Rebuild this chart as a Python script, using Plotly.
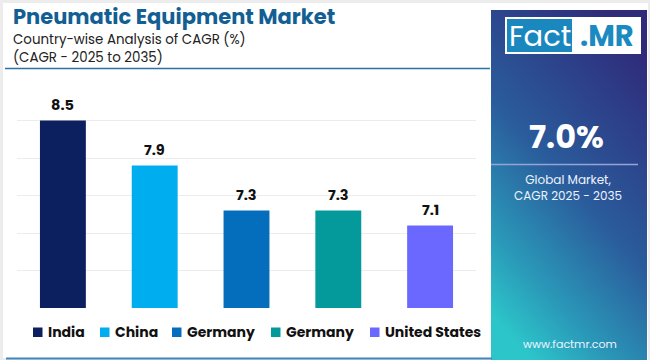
import base64
import plotly.graph_objects as go

# ---------------- data ----------------
countries = ["India", "China", "Germany", "Germany", "United States"]
cagr = [8.5, 7.9, 7.3, 7.3, 7.1]
bar_colors = ["#0c1f5e", "#00adef", "#046ebd", "#04999a", "#6a68ff"]
global_cagr = "7.0%"
title_text = "Pneumatic Equipment Market"
subtitle_1 = "Country-wise Analysis of CAGR (%)"
subtitle_2 = "(CAGR - 2025 to 2035)"
y_min, y_max, y_step = 6.0, 9.0, 0.5

# ---------------- layout geometry (pixels) ----------------
W, H = 650, 360
L, R, T, B = 17, 476, 83, 308
PW, PH = R - L, B - T


def px(x):
    return (x - L) / PW


def py(y):
    return (B - y) / PH


FONT = "Poppins, Inter, sans-serif"
xs = list(range(len(countries)))

fig = go.Figure()
fig.add_trace(go.Bar(
    x=xs, y=cagr, base=0, width=0.5,
    marker=dict(color=bar_colors, line=dict(width=0)),
    showlegend=False, hoverinfo="skip",
))

shapes = []
annotations = []
images = []

# page card (left part, white)
shapes.append(dict(type="rect", xref="paper", yref="paper",
                   x0=px(3), x1=px(491), y0=py(358), y1=py(3),
                   fillcolor="white", line=dict(width=0), layer="below"))
# white strip right of panel
shapes.append(dict(type="rect", xref="paper", yref="paper",
                   x0=px(491), x1=px(648), y0=py(360), y1=py(3),
                   fillcolor="white", line=dict(width=0), layer="below"))
# bottom blue line
shapes.append(dict(type="line", xref="paper", yref="paper",
                   x0=px(6), x1=px(492), y0=py(358.5), y1=py(358.5),
                   line=dict(color="#3f86bd", width=2)))
# title underline
shapes.append(dict(type="line", xref="paper", yref="paper",
                   x0=px(5), x1=px(490), y0=py(68.5), y1=py(68.5),
                   line=dict(color="#2d70a3", width=1.5)))

# gradient panel as svg image
svg = ("<svg xmlns='http://www.w3.org/2000/svg' width='156' height='350' viewBox='0 0 156 350' preserveAspectRatio='none'>"
       "<defs><linearGradient id='g' x1='0.75' y1='0' x2='0.25' y2='1'>"
       "<stop offset='0' stop-color='#2f2a7a'/>"
       "<stop offset='0.5' stop-color='#2a5c9c'/>"
       "<stop offset='0.8' stop-color='#2a98b8'/>"
       "<stop offset='1' stop-color='#2cc6ca'/>"
       "</linearGradient></defs>"
       "<rect width='156' height='350' fill='url(#g)'/></svg>")
src = "data:image/svg+xml;base64," + base64.b64encode(svg.encode()).decode()
images.append(dict(source=src, xref="paper", yref="paper",
                   x=px(491), y=py(10), sizex=(647 - 491) / PW, sizey=350 / PH,
                   xanchor="left", yanchor="top", sizing="stretch", layer="above"))

# logo
shapes.append(dict(type="rect", xref="paper", yref="paper",
                   x0=px(505), x1=px(641), y0=py(54), y1=py(17),
                   fillcolor="white", line=dict(width=0)))
shapes.append(dict(type="rect", xref="paper", yref="paper",
                   x0=px(507), x1=px(572), y0=py(52), y1=py(19),
                   fillcolor="#1a87be", line=dict(width=0)))
annotations.append(dict(xref="paper", yref="paper", x=px(539.5), y=py(36),
                        text="Fact", showarrow=False, xanchor="center", yanchor="middle",
                        font=dict(family=FONT, size=29, color="white")))
annotations.append(dict(xref="paper", yref="paper", x=px(607), y=py(36),
                        text="<b>.MR</b>", showarrow=False, xanchor="center", yanchor="middle",
                        font=dict(family=FONT, size=29, color="#1a8ac0")))

# panel texts
annotations.append(dict(xref="paper", yref="paper", x=px(566), y=py(136),
                        text="<b>" + global_cagr + "</b>", showarrow=False,
                        xanchor="center", yanchor="middle",
                        font=dict(family=FONT, size=32, color="white")))
shapes.append(dict(type="line", xref="paper", yref="paper",
                   x0=px(491), x1=px(638), y0=py(164.5), y1=py(164.5),
                   line=dict(color="#93a4d6", width=1.5)))
annotations.append(dict(xref="paper", yref="paper", x=px(568), y=py(187),
                        text="Global Market,<br>CAGR 2025 - 2035", showarrow=False,
                        xanchor="center", yanchor="middle", align="center",
                        font=dict(family=FONT, size=12, color="#eef3ff")))
annotations.append(dict(xref="paper", yref="paper", x=px(569.5), y=py(344),
                        text="www.factmr.com", showarrow=False,
                        xanchor="center", yanchor="middle",
                        font=dict(family=FONT, size=11, color="#eef3ff")))

# titles
annotations.append(dict(xref="paper", yref="paper", x=px(11), y=py(16),
                        text="<b>" + title_text + "</b>", showarrow=False,
                        xanchor="left", yanchor="middle",
                        font=dict(family=FONT, size=21, color="#135f93")))
annotations.append(dict(xref="paper", yref="paper", x=px(11), y=py(39),
                        text=subtitle_1, showarrow=False,
                        xanchor="left", yanchor="middle",
                        font=dict(family=FONT, size=13.4, color="#222222")))
annotations.append(dict(xref="paper", yref="paper", x=px(11), y=py(58),
                        text=subtitle_2, showarrow=False,
                        xanchor="left", yanchor="middle",
                        font=dict(family=FONT, size=13.4, color="#222222")))

# value labels
for xi, v in zip(xs, cagr):
    annotations.append(dict(x=xi, y=v, xref="x", yref="y", text="<b>%.1f</b>" % v,
                            showarrow=False, yanchor="bottom", yshift=4,
                            font=dict(family=FONT, size=14.5, color="#111111")))

# legend (manual)
legend_x = [33, 100, 172, 271, 370]
for lx, name, col in zip(legend_x, countries, bar_colors):
    shapes.append(dict(type="rect", xref="paper", yref="paper",
                       x0=px(lx), x1=px(lx + 9.5), y0=py(337), y1=py(327.5),
                       fillcolor=col, line=dict(width=0)))
    annotations.append(dict(xref="paper", yref="paper", x=px(lx + 13), y=py(332),
                            text="<b>" + name + "</b>", showarrow=False,
                            xanchor="left", yanchor="middle",
                            font=dict(family=FONT, size=14, color="#111111")))

fig.update_layout(
    width=W, height=H,
    margin=dict(l=L, r=W - R, t=T, b=H - B),
    paper_bgcolor="#ececec", plot_bgcolor="rgba(0,0,0,0)",
    showlegend=False,
    xaxis=dict(range=[-0.5, len(countries) - 0.5], showticklabels=False,
               showgrid=False, zeroline=False, fixedrange=True),
    yaxis=dict(range=[y_min, y_max], dtick=y_step, tick0=y_min,
               showticklabels=False, showgrid=True, gridcolor="#ececf0",
               gridwidth=1, zeroline=False, fixedrange=True),
    shapes=shapes, annotations=annotations, images=images,
)

fig.write_html("out.html", config={"displayModeBar": False},
               post_script="document.body.style.margin='0';document.body.style.overflow='hidden';")
